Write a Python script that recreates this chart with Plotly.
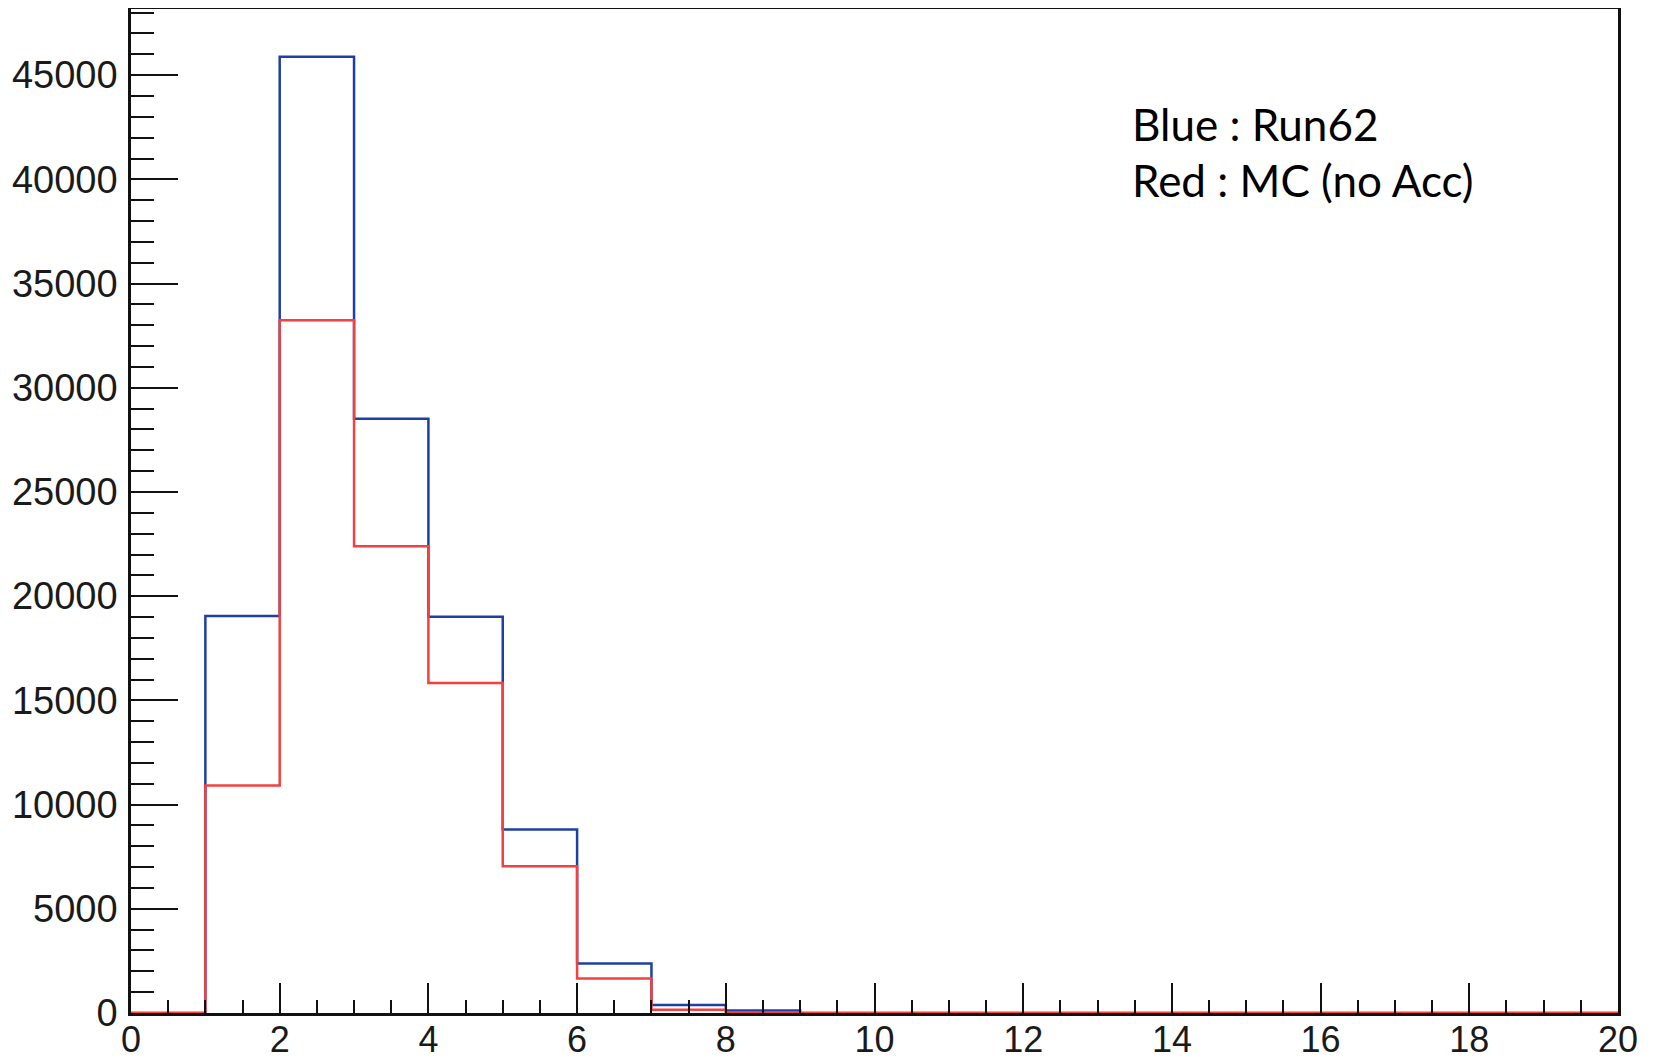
import plotly.graph_objects as go

# Histogram bin edges (20 bins of width 1 from 0 to 20)
bin_edges = list(range(0, 21))
# Bin contents
blue_run62 = [0, 19050, 45880, 28510, 19010, 8800, 2380, 380, 120, 0,
              0, 0, 0, 0, 0, 0, 0, 0, 0, 0]
red_mc = [0, 10920, 33240, 22400, 15840, 7040, 1660, 160, 0, 0,
          0, 0, 0, 0, 0, 0, 0, 0, 0, 0]
x_tick_vals = [0, 2, 4, 6, 8, 10, 12, 14, 16, 18, 20]
y_tick_vals = [0, 5000, 10000, 15000, 20000, 25000, 30000, 35000, 40000, 45000]
legend_lines = ["Blue : Run62", "Red : MC (no Acc)"]

BLUE = "#1f3fa6"
RED = "#f2413f"


def step_xy(edges, vals):
    xs = list(edges)
    ys = list(vals) + [vals[-1]]
    xs.append(edges[-1])
    ys.append(0)
    return xs, ys


fig = go.Figure()
bx, by = step_xy(bin_edges, blue_run62)
rx, ry = step_xy(bin_edges, red_mc)
fig.add_trace(go.Scatter(x=bx, y=by, mode="lines", line=dict(color=BLUE, width=2.5, shape="hv"),
                         showlegend=False, hoverinfo="skip"))
fig.add_trace(go.Scatter(x=rx, y=ry, mode="lines", line=dict(color=RED, width=2.5, shape="hv"),
                         showlegend=False, hoverinfo="skip"))

ymax = 1.05 * max(max(blue_run62), max(red_mc))

fig.update_layout(
    width=1645, height=1051,
    margin=dict(l=123, r=35, t=1, b=46),
    paper_bgcolor="white", plot_bgcolor="white",
    font=dict(family="Liberation Sans, Arial, sans-serif", color="#1a1a1a"),
)
fig.update_xaxes(
    range=[0, 20], tickvals=x_tick_vals, ticktext=[str(v) for v in x_tick_vals],
    ticks="inside", ticklen=30, tickwidth=2, tickcolor="#111",
    minor=dict(dtick=0.5, ticks="inside", ticklen=13, tickwidth=2, tickcolor="#111"),
    showline=True, linecolor="#111", linewidth=2.5, mirror=True,
    showgrid=False, zeroline=False, automargin=False,
    tickfont=dict(size=36), ticklabelstandoff=-7,
)
fig.update_yaxes(
    range=[0, ymax], tickvals=y_tick_vals, ticktext=[str(v) for v in y_tick_vals],
    ticks="inside", ticklen=47, tickwidth=2, tickcolor="#111",
    minor=dict(dtick=1000, ticks="inside", ticklen=23, tickwidth=2, tickcolor="#111"),
    showline=True, linecolor="#111", linewidth=2.5, mirror=True,
    showgrid=False, zeroline=False, automargin=False,
    tickfont=dict(size=38), ticklabelstandoff=3,
)

legend_y = [0.8856, 0.830]
for txt, yy in zip(legend_lines, legend_y):
    fig.add_annotation(
        x=0.672, xref="paper", xanchor="left",
        y=yy, yref="paper", yanchor="middle",
        text=txt, showarrow=False, align="left",
        font=dict(family="Lato, Carlito, sans-serif", size=44, color="black"),
    )

fig.write_html("out.html")
